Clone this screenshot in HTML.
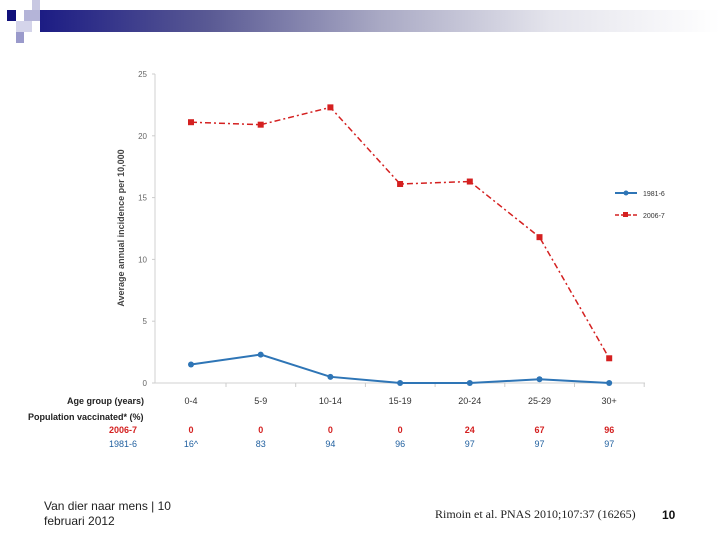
<!DOCTYPE html>
<html><head><meta charset="utf-8"><style>
body{margin:0;width:720px;height:540px;background:#fff;position:relative;overflow:hidden;font-family:"Liberation Sans",sans-serif}
.abs{position:absolute}
</style></head><body>
<div class="abs" style="left:40px;top:10px;width:680px;height:22px;background:linear-gradient(to right,#1c1c84,#5a5a94 25%,#a9a9c4 50%,#e4e4ec 75%,#fff)"></div>
<div class="abs" style="left:7px;top:10px;width:9px;height:11px;background:#10107a"></div>
<div class="abs" style="left:32px;top:0;width:8px;height:10px;background:#c8c8e2"></div>
<div class="abs" style="left:24px;top:10px;width:16px;height:11px;background:#b4b4d8"></div>
<div class="abs" style="left:16px;top:21px;width:16px;height:11px;background:#d4d4ea"></div>
<div class="abs" style="left:16px;top:32px;width:8px;height:11px;background:#9a9acb"></div>
<svg class="abs" style="left:0;top:0" width="720" height="540" id="chart"></svg>
<div class="abs" style="left:44px;top:499px;font-size:12px;line-height:15px;color:#222">Van dier naar mens | 10<br>februari 2012</div>
<div class="abs" style="left:435px;top:507px;font-size:12px;font-family:'Liberation Serif',serif;color:#222">Rimoin et al. PNAS 2010;107:37 (16265)</div>
<div class="abs" style="left:662px;top:508px;font-size:12px;font-weight:bold;color:#111">10</div>
<script>
const categories=["0-4","5-9","10-14","15-19","20-24","25-29","30+"];
const series2006=[21.1,20.9,22.3,16.1,16.3,11.8,2.0];
const series1981=[1.5,2.3,0.5,0,0,0.3,0];
const yTicks=[0,5,10,15,20,25];
const vacc2006=["0","0","0","0","24","67","96"];
const vacc1981=["16^","83","94","96","97","97","97"];
const NS="http://www.w3.org/2000/svg";
const svg=document.getElementById('chart');
const x0=155,x1=645,y0=383,yTop=74;
const xs=i=>x0+36+i*69.7;
const ys=v=>y0-(v/25)*(y0-yTop);
function mk(t,a,txt){const e=document.createElementNS(NS,t);for(const k in a)e.setAttribute(k,a[k]);if(txt!==undefined)e.textContent=txt;svg.appendChild(e);return e;}
let e=mk('line',{x1:x0,y1:yTop,x2:x0,y2:y0,stroke:'#d0d0d0'});

e=mk('line',{x1:x0,y1:y0,x2:x1,y2:y0,stroke:'#d0d0d0'});

yTicks.forEach(t=>{e=mk('text',{x:x0-8,y:ys(t)+3,'font-size':8,fill:'#666','text-anchor':'end'},t);

mk('line',{x1:x0-3,y1:ys(t),x2:x0,y2:ys(t),stroke:'#ccc'});});
e=mk('text',{x:0,y:0,'font-size':9,'font-weight':'bold',fill:'#444','text-anchor':'middle',transform:`translate(124,228) rotate(-90)`},'Average annual incidence per 10,000');

categories.forEach((c,i)=>{mk('line',{x1:xs(i)+35,y1:y0,x2:xs(i)+35,y2:y0+4,stroke:'#ccc'});
e=mk('text',{x:xs(i),y:404,'font-size':9,fill:'#333','text-anchor':'middle'},c);

e=mk('text',{x:xs(i),y:433,'font-size':9,'font-weight':'bold',fill:'#d42020','text-anchor':'middle'},vacc2006[i]);

e=mk('text',{x:xs(i),y:447,'font-size':9,fill:'#1f5f9f','text-anchor':'middle'},vacc1981[i]);
});
e=mk('text',{x:144,y:404,'font-size':9,'font-weight':'bold',fill:'#222','text-anchor':'end'},'Age group (years)');

e=mk('text',{x:28,y:420,'font-size':9,'font-weight':'bold',fill:'#222'},'Population vaccinated* (%)');

e=mk('text',{x:137,y:433,'font-size':9,'font-weight':'bold',fill:'#d42020','text-anchor':'end'},'2006-7');

e=mk('text',{x:137,y:447,'font-size':9,fill:'#1f5f9f','text-anchor':'end'},'1981-6');

e=mk('polyline',{points:series1981.map((v,i)=>xs(i)+','+ys(v)).join(' '),fill:'none',stroke:'#2e75b6','stroke-width':2});

series1981.forEach((v,i)=>{e=mk('circle',{cx:xs(i),cy:ys(v),r:3,fill:'#2e75b6'});
});
e=mk('polyline',{points:series2006.map((v,i)=>xs(i)+','+ys(v)).join(' '),fill:'none',stroke:'#d42020','stroke-width':1.5,'stroke-dasharray':'6,3,2,3'});

series2006.forEach((v,i)=>{e=mk('rect',{x:xs(i)-3,y:ys(v)-3,width:6,height:6,fill:'#d42020'});
});
e=mk('line',{x1:615,y1:193,x2:637,y2:193,stroke:'#2e75b6','stroke-width':2});

mk('circle',{cx:626,cy:193,r:2.5,fill:'#2e75b6'});
e=mk('text',{x:643,y:196,'font-size':7,fill:'#333'},'1981-6');

e=mk('line',{x1:615,y1:215,x2:637,y2:215,stroke:'#d42020','stroke-width':1.5,'stroke-dasharray':'4,2'});

mk('rect',{x:623,y:212,width:5,height:5,fill:'#d42020'});
e=mk('text',{x:643,y:218,'font-size':7,fill:'#333'},'2006-7');

</script>
</body></html>
